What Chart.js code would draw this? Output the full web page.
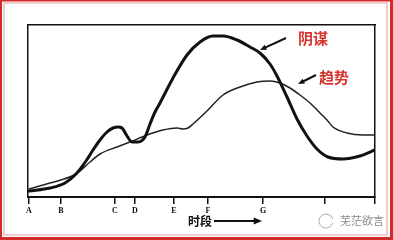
<!DOCTYPE html>
<html><head><meta charset="utf-8">
<script src="https://cdn.jsdelivr.net/npm/chart.js@4"></script>
<style>html,body{margin:0;padding:0;background:#fff;}canvas{display:block;}</style>
</head><body>
<canvas id="c" width="393" height="240"></canvas>
<script>
// x positions on time axis (scale units), y = level
const tickPositions = [1, 33, 87, 107, 146, 180, 235, 297, 347];
const tickLabels = ['A', 'B', 'C', 'D', 'E', 'F', 'G', '', ''];

const conspiracyX = [1, 22, 37, 48, 58, 65, 72, 79, 85, 90, 94, 99, 104, 110, 117, 122, 127, 132, 145, 159, 172, 185, 195, 209, 222, 232, 242, 249, 259, 269, 279, 289, 300, 315, 332, 347];
const conspiracyY = [6, 9, 14, 23, 36, 47, 57, 65, 69, 70, 69, 61, 55, 55, 60, 73, 85, 94, 119, 142, 155, 161, 161, 157, 150, 144, 133, 121, 100, 78, 61, 48, 40, 38, 41, 47];

const trendX = [1, 22, 48, 62, 72, 89, 102, 119, 135, 149, 155, 160, 165, 179, 195, 212, 229, 242, 252, 262, 272, 282, 292, 299, 305, 319, 335, 347];
const trendY = [8, 14, 23, 35, 43, 50, 55, 62, 67, 69, 68, 69, 73, 86, 102, 110, 115, 116, 114, 109, 102, 94, 84, 77, 70, 64, 62, 62];

const annotations = [
  {text: '阴谋', x: 285, y: 159, ax1: 258, ay1: 159, ax2: 232, ay2: 147},
  {text: '趋势', x: 306, y: 120, ax1: 288, ay1: 122, ax2: 270, ay2: 113}
];

function pts(xs, ys) { return xs.map((x, i) => ({x: x, y: ys[i]})); }

function arrow(ctx, x1, y1, x2, y2, w, head) {
  const a = Math.atan2(y2 - y1, x2 - x1);
  ctx.beginPath();
  ctx.moveTo(x1, y1);
  ctx.lineTo(x2 - Math.cos(a) * head * 0.8, y2 - Math.sin(a) * head * 0.8);
  ctx.lineWidth = w; ctx.stroke();
  ctx.beginPath();
  ctx.moveTo(x2, y2);
  ctx.lineTo(x2 - head * Math.cos(a - 0.4), y2 - head * Math.sin(a - 0.4));
  ctx.lineTo(x2 - head * Math.cos(a + 0.4), y2 - head * Math.sin(a + 0.4));
  ctx.closePath(); ctx.fill();
}

const deco = {
  id: 'deco',
  beforeDraw(chart) {
    const ctx = chart.ctx;
    ctx.save(); ctx.fillStyle = '#fff'; ctx.fillRect(0, 0, chart.width, chart.height); ctx.restore();
  },
  afterDraw(chart) {
    const ctx = chart.ctx, xs = chart.scales.x, ys = chart.scales.y;
    ctx.save();
    ctx.fillStyle = '#111'; ctx.strokeStyle = '#111';
    annotations.forEach(a => {
      arrow(ctx, xs.getPixelForValue(a.ax1), ys.getPixelForValue(a.ay1), xs.getPixelForValue(a.ax2), ys.getPixelForValue(a.ay2), 2, 7);
    });
    ctx.fillStyle = '#d8322c';
    ctx.font = 'bold 15px "Noto Sans CJK SC"';
    ctx.textAlign = 'center'; ctx.textBaseline = 'middle';
    annotations.forEach(a => ctx.fillText(a.text, xs.getPixelForValue(a.x), ys.getPixelForValue(a.y)));
    const ty = 221;
    ctx.fillStyle = '#111';
    ctx.font = 'bold 12px "Noto Sans CJK SC"';
    ctx.textAlign = 'right';
    ctx.fillText('时段', xs.getPixelForValue(184), ty);
    ctx.strokeStyle = '#111'; ctx.fillStyle = '#111';
    arrow(ctx, xs.getPixelForValue(186), ty, xs.getPixelForValue(234), ty, 2.2, 9);
    ctx.fillStyle = '#8a8a8a'; ctx.strokeStyle = '#aaa'; ctx.lineWidth = 1;
    ctx.beginPath(); ctx.arc(326, 221, 7, 0.3, Math.PI * 2 - 0.3); ctx.stroke();
    ctx.font = '11px "Noto Sans CJK SC"'; ctx.textAlign = 'left';
    ctx.fillText('芜茫欲言', 340, 221);
    ctx.strokeStyle = '#f2cdcd'; ctx.lineWidth = 2;
    ctx.strokeRect(4, 3, chart.width - 10, chart.height - 8);
    ctx.fillStyle = '#d42a2a';
    ctx.fillRect(0, 0, chart.width, 1.5);
    ctx.fillRect(0, 0, 2, chart.height);
    ctx.fillRect(chart.width - 3, 0, 3, chart.height);
    ctx.fillRect(0, chart.height - 3, chart.width, 3);
    ctx.restore();
  }
};

new Chart(document.getElementById('c'), {
  type: 'line',
  data: {
    datasets: [
      {label: '阴谋', data: pts(conspiracyX, conspiracyY), borderColor: '#111', borderWidth: 3, cubicInterpolationMode: 'monotone', pointRadius: 0, fill: false, borderCapStyle: 'round', borderJoinStyle: 'round'},
      {label: '趋势', data: pts(trendX, trendY), borderColor: '#222', borderWidth: 1.5, cubicInterpolationMode: 'monotone', pointRadius: 0, fill: false}
    ]
  },
  options: {
    responsive: false, devicePixelRatio: 1, animation: false,
    layout: {padding: 0},
    plugins: {legend: {display: false}, tooltip: {enabled: false}},
    scales: {
      x: {
        type: 'linear', position: 'bottom', min: 0, max: 347,
        afterBuildTicks: s => { s.ticks = tickPositions.map(v => ({value: v})); },
        afterFit: s => { s.height = 43; },
        border: {display: true, color: '#111', width: 2},
        grid: {drawOnChartArea: false, drawTicks: true, tickLength: 7, color: '#111', lineWidth: 1.5},
        ticks: {autoSkip: false, maxRotation: 0, padding: 2, color: '#111',
          font: {family: 'Liberation Serif', weight: 'bold', size: 8},
          callback: (v, i) => tickLabels[i]}
      },
      x2: {
        type: 'linear', position: 'top', min: 0, max: 347,
        afterFit: s => { s.height = 25; },
        border: {display: true, color: '#111', width: 1.5},
        grid: {display: false}, ticks: {display: false}
      },
      y: {
        type: 'linear', position: 'left', min: 0, max: 172,
        afterFit: s => { s.width = 28; },
        border: {display: true, color: '#111', width: 1.5},
        grid: {display: false}, ticks: {display: false}
      },
      y2: {
        type: 'linear', position: 'right', min: 0, max: 172,
        afterFit: s => { s.width = 18; },
        border: {display: true, color: '#111', width: 1.5},
        grid: {display: false}, ticks: {display: false}
      }
    }
  },
  plugins: [deco]
});
</script>
</body></html>
